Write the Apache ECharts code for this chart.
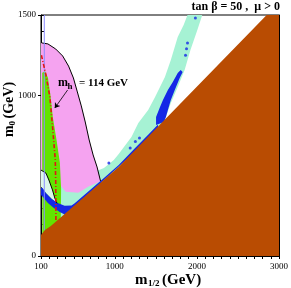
<!DOCTYPE html>
<html>
<head>
<meta charset="utf-8">
<script src="https://cdn.jsdelivr.net/npm/echarts/dist/echarts.min.js"></script>
<style>
html,body{margin:0;padding:0;background:#fff;}
#c{width:291px;height:288px;}
</style>
</head>
<body>
<div id="c"></div>
<script>
// ---- data (m1/2, m0) in GeV ----
var xTickLabels = [100, 1000, 2000, 3000];
var yTickLabels = [0, 1000, 1500];

var brownRegion = [[100,0],[100,131],[148,162],[220,187],[1046,554],[2850,1500],[3000,1500],[3000,0]];
var aquaRegion = [[292,317],[292,485],[507,504],[747,523],[867,548],[987,598],[1047,635],[1202,741],[1286,828],[1406,909],[1490,990],[1610,1114],[1682,1220],[1766,1363],[1838,1438],[1885,1500],[2065,1500],[2005,1407],[1921,1282],[1850,1158],[1766,1052],[1682,952],[1622,865],[1562,815],[1100,500],[300,200]];
var pinkRegion = [[100,1330],[112,1326],[184,1320],[280,1288],[364,1245],[436,1182],[495,1108],[543,1021],[591,934],[639,834],[687,722],[735,629],[783,554],[825,467],[779,455],[675,431],[555,394],[400,400],[300,462],[100,470]];
var greenRegion = [[115,1140],[150,1150],[185,1110],[215,1000],[245,860],[290,720],[330,580],[345,420],[340,200],[115,120]];
var paleRegion = [[100,535],[160,516],[196,473],[240,411],[268,361],[295,328],[232,355],[160,392],[118,423],[100,430]];
var blueStrip = [[118,423],[160,392],[232,355],[304,330],[388,312],[472,314],[507,326],[687,406],[867,486],[1047,566],[1238,667],[1406,755],[1526,818],[1526,780],[400,255],[328,274],[256,299],[184,330],[124,367],[100,380],[100,425]];
var blueFunnel = [[1502,815],[1502,865],[1550,927],[1586,971],[1646,1033],[1706,1083],[1766,1139],[1802,1158],[1826,1145],[1790,1108],[1730,1033],[1682,971],[1646,909],[1622,865],[1598,834]];
var blueDots = [[1885,1326],[1873,1290],[1861,1250],[1981,1481],[927,579],[1187,672],[1250,712],[1300,735]];
var g2Boundary = [[100,1330],[112,1326],[184,1320],[280,1288],[364,1245],[436,1182],[495,1108],[543,1021],[591,934],[639,834],[687,722],[735,629],[783,554],[825,467]];
var lowBoundary = [[100,535],[160,516],[196,473],[240,411],[268,361],[295,328]];
var mhLine = [[105,1250],[160,1127],[208,990],[244,784],[274,598],[280,442],[282,215]];
var charginoLine = [[140,1500],[140,160]];
var mhArrow = [[424,1033],[268,921]];

var SERIF = 'Liberation Serif, Times New Roman, serif';

function poly(pts, color, z) {
  return {
    type: 'custom', coordinateSystem: 'cartesian2d', clip: true, silent: true, z: z,
    data: [pts[0]],
    renderItem: function (params, api) {
      return { type: 'polygon', shape: { points: pts.map(function (p) { return api.coord(p); }) },
        style: { fill: color, stroke: null } };
    }
  };
}
function pline(pts, color, width, dash, z) {
  return {
    type: 'custom', coordinateSystem: 'cartesian2d', clip: true, silent: true, z: z,
    data: [pts[0]],
    renderItem: function (params, api) {
      return { type: 'polyline', shape: { points: pts.map(function (p) { return api.coord(p); }) },
        style: { stroke: color, lineWidth: width, fill: null, lineDash: dash || null } };
    }
  };
}

var chart = echarts.init(document.getElementById('c'), null, { renderer: 'canvas' });

var plain = function (v) { return String(v); };
var axCommon = { type: 'value', splitLine: { show: false } };
function xAx(pos, labels, outward) {
  return Object.assign({}, axCommon, {
    min: 100, max: 3000, interval: 100, position: pos,
    axisLine: { show: !outward, lineStyle: { color: '#000', width: 1 } },
    axisTick: outward ? { show: true, inside: false, length: 3, customValues: xTickLabels, lineStyle: { color: '#000' } }
                      : { show: true, inside: true, length: 3, lineStyle: { color: '#000' } },
    axisLabel: labels ? { show: true, customValues: xTickLabels, formatter: plain, fontFamily: SERIF, fontSize: 9, color: '#000', margin: 6 } : { show: false }
  });
}
function yAx(pos, labels, outward) {
  return Object.assign({}, axCommon, {
    min: 0, max: 1500, interval: 100, position: pos,
    axisLine: { show: !outward, lineStyle: { color: '#000', width: 1 } },
    axisTick: outward ? { show: true, inside: false, length: 3, customValues: yTickLabels, lineStyle: { color: '#000' } }
                      : { show: true, inside: true, length: 3, lineStyle: { color: '#000' } },
    axisLabel: labels ? { show: true, customValues: yTickLabels, formatter: plain, fontFamily: SERIF, fontSize: 9, color: '#000', margin: 5 } : { show: false }
  });
}

chart.setOption({
  animation: false,
  backgroundColor: '#fff',
  grid: { left: 41, right: 8, top: 15, bottom: 32, show: true, borderColor: '#000', borderWidth: 1, backgroundColor: '#fff' },
  xAxis: [xAx('bottom', true, false), xAx('top', false, false), xAx('bottom', false, true)],
  yAxis: [yAx('left', true, false), yAx('right', false, false), yAx('left', false, true)],
  series: [
    poly(aquaRegion, '#a6f2d4', 1),
    poly(pinkRegion, '#f5a3f0', 2),
    poly(greenRegion, '#62e400', 3),
    poly(paleRegion, '#dcf7ea', 4),
    poly(blueStrip, '#1428e6', 5),
    poly(blueFunnel, '#1428e6', 5),
    poly(brownRegion, '#b94c02', 6),
    pline(g2Boundary, '#000', 1, null, 7),
    pline(lowBoundary, '#000', 1, null, 7),
    pline(charginoLine, '#8c8cff', 1, null, 7),
    pline(mhLine, '#e31414', 1.6, [4, 2, 1, 2], 8),
    { type: 'scatter', data: blueDots, symbol: 'circle', symbolSize: 3, itemStyle: { color: '#1428e6' }, z: 8, silent: true },
    { type: 'lines', coordinateSystem: 'cartesian2d', polyline: false, silent: true, z: 9,
      symbol: ['none', 'arrow'], symbolSize: 5,
      lineStyle: { color: '#000', width: 0.8, opacity: 1 },
      data: [{ coords: mhArrow }] }
  ],
  graphic: [
    { type: 'text', x: 280, y: 7, z: 20, style: { text: 'tan β = 50 ,  μ > 0', font: 'bold 12px ' + SERIF, fill: '#000', align: 'right', verticalAlign: 'middle' } },
    { type: 'text', x: 58, y: 83, z: 20, style: { text: 'm', font: 'bold 12px ' + SERIF, fill: '#000', align: 'left', verticalAlign: 'middle' } },
    { type: 'text', x: 67.5, y: 87, z: 20, style: { text: 'h', font: 'bold 9px ' + SERIF, fill: '#000', align: 'left', verticalAlign: 'middle' } },
    { type: 'text', x: 79, y: 83, z: 20, style: { text: '= 114 GeV', font: 'bold 11px ' + SERIF, fill: '#000', align: 'left', verticalAlign: 'middle' } },
    { type: 'text', x: 135, y: 280, z: 20, style: { text: 'm', font: 'bold 15px ' + SERIF, fill: '#000', align: 'left', verticalAlign: 'middle' } },
    { type: 'text', x: 148, y: 284, z: 20, style: { text: '1/2', font: 'bold 9px ' + SERIF, fill: '#000', align: 'left', verticalAlign: 'middle' } },
    { type: 'text', x: 162, y: 280, z: 20, style: { text: '(GeV)', font: 'bold 15px ' + SERIF, fill: '#000', align: 'left', verticalAlign: 'middle' } },
    { type: 'group', x: 9, y: 137, rotation: Math.PI / 2, z: 20, children: [
      { type: 'text', x: 0, y: 0, style: { text: 'm', font: 'bold 14px ' + SERIF, fill: '#000', align: 'left', verticalAlign: 'middle' } },
      { type: 'text', x: 11.5, y: 4, style: { text: '0', font: 'bold 9px ' + SERIF, fill: '#000', align: 'left', verticalAlign: 'middle' } },
      { type: 'text', x: 18.5, y: 0, style: { text: '(GeV)', font: 'bold 14px ' + SERIF, fill: '#000', align: 'left', verticalAlign: 'middle' } }
    ] }
  ]
});
</script>
</body>
</html>
